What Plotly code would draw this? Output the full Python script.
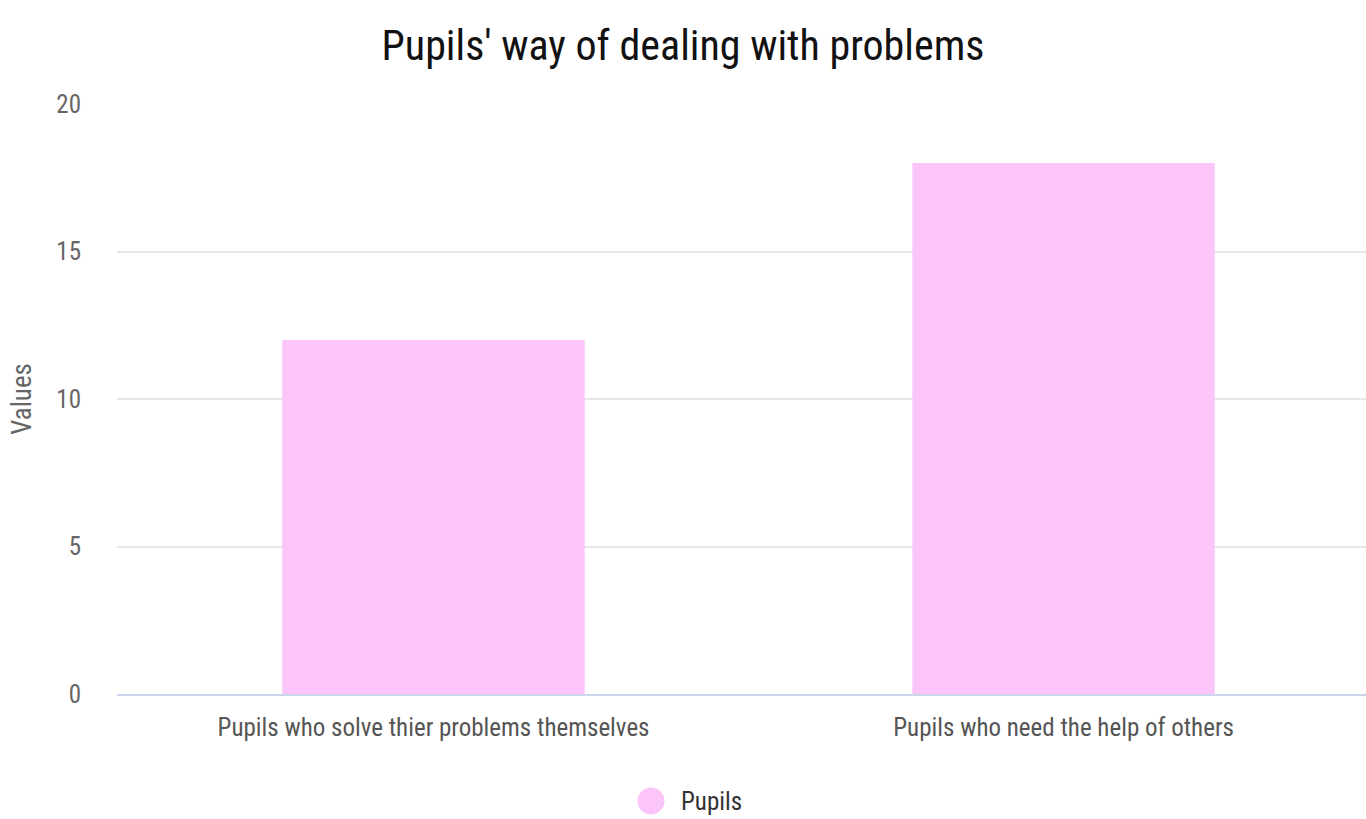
import plotly.graph_objects as go

categories = ["Pupils who solve thier problems themselves", "Pupils who need the help of others"]
values = [12, 18]
series_name = "Pupils"
y_ticks = [0, 5, 10, 15, 20]

BAR_COLOR = "#FCC5FA"
FONT = "Roboto Condensed, DejaVu Sans Condensed, Roboto, sans-serif"

# plot area in pixels: left 117, right 1366, top 104, bottom 694
PLOT_L, PLOT_R, PLOT_T, PLOT_B = 117, 1366, 104, 694


def px_to_paper_x(px):
    return (px - PLOT_L) / (PLOT_R - PLOT_L)


def px_to_paper_y(py):
    return (PLOT_B - py) / (PLOT_B - PLOT_T)


fig = go.Figure()
fig.add_trace(go.Bar(
    x=categories, y=values, name=series_name,
    marker=dict(color=BAR_COLOR, line=dict(width=0)),
    width=0.48, showlegend=False,
))

# Legend: round swatch plus series name, centred below the axis labels
legend_y = px_to_paper_y(801)
fig.add_shape(
    type="circle", xref="paper", yref="paper",
    xsizemode="pixel", ysizemode="pixel",
    xanchor=px_to_paper_x(651), yanchor=legend_y,
    x0=-13.5, x1=13.5, y0=-13.5, y1=13.5,
    fillcolor=BAR_COLOR, line=dict(width=0),
)
fig.add_annotation(
    text=series_name, xref="paper", yref="paper",
    x=px_to_paper_x(679), y=legend_y, xanchor="left", yanchor="middle",
    showarrow=False, font=dict(family=FONT, size=25, color="#333333"),
)

fig.update_layout(
    width=1366, height=819,
    margin=dict(l=PLOT_L, r=1366 - PLOT_R, t=PLOT_T, b=819 - PLOT_B),
    paper_bgcolor="white", plot_bgcolor="white",
    font=dict(family=FONT, color="#333333"),
    showlegend=False,
    title=dict(text="Pupils' way of dealing with problems", x=0.5, xanchor="center",
               y=1 - 45 / 819, yanchor="middle",
               font=dict(family=FONT, size=42, color="#111111")),
    xaxis=dict(
        type="category", range=[-0.5024, 1.48],
        showgrid=False, showline=True, linecolor="#ccd6eb", linewidth=2,
        ticks="", ticklabelstandoff=10, tickfont=dict(size=25, color="#555555"),
    ),
    yaxis=dict(
        range=[0, 20], tickvals=y_ticks, showgrid=True, gridcolor="#e6e6e6", gridwidth=2,
        zeroline=False, showline=False, ticks="", ticklabelstandoff=35,
        tickfont=dict(size=25, color="#666666"),
        title=dict(text="Values", font=dict(size=27, color="#666666"), standoff=16),
    ),
)

fig.write_html("out.html")
